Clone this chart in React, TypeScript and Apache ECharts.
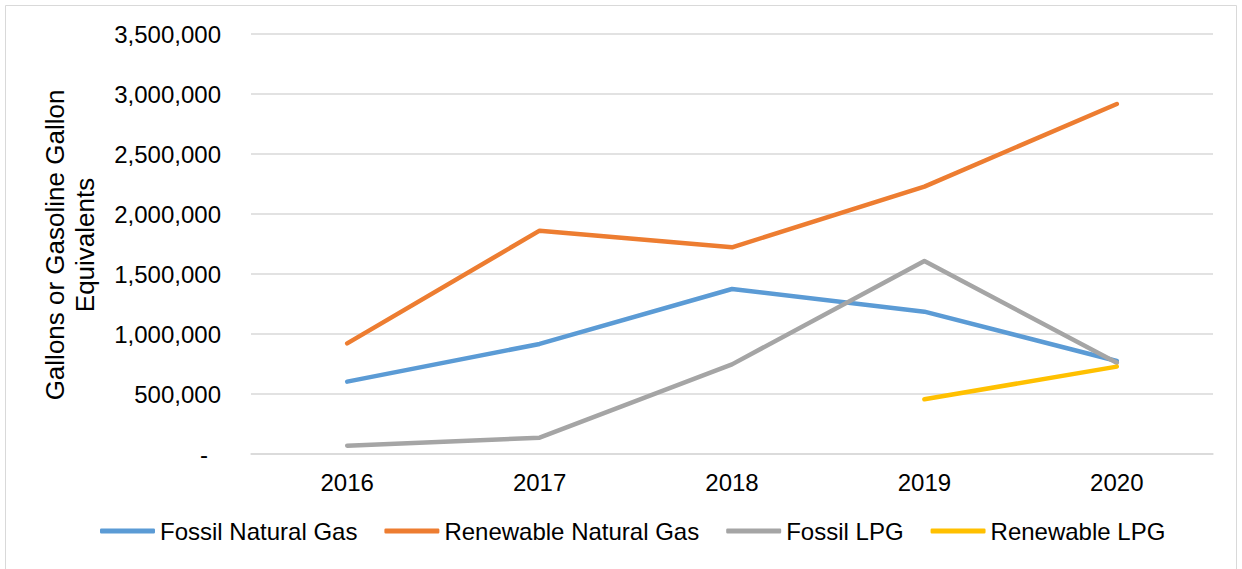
import React, { useEffect, useRef } from "react";
import * as echarts from "echarts";

const years = ["2016", "2017", "2018", "2019", "2020"];
const fossilNaturalGas = [603000, 917000, 1375000, 1186000, 775000];
const renewableNaturalGas = [922000, 1861000, 1722000, 2228000, 2917000];
const fossilLPG = [69000, 136000, 747000, 1608000, 761000];
const renewableLPG = [null, null, null, 456000, 728000];
const seriesNames = ["Fossil Natural Gas", "Renewable Natural Gas", "Fossil LPG", "Renewable LPG"];
const seriesColors = ["#5B9BD5", "#ED7D31", "#A5A5A5", "#FFC000"];
const axisTitle = "Gallons or Gasoline Gallon\nEquivalents";

const FONT = "'Liberation Sans', Arial, sans-serif";

export default function App() {
  const ref = useRef<HTMLDivElement>(null);
  useEffect(() => {
    if (!ref.current) return;
    const chart = echarts.init(ref.current, null, { renderer: "svg" });
    const data = [fossilNaturalGas, renewableNaturalGas, fossilLPG, renewableLPG];
    chart.setOption({
      animation: false,
      backgroundColor: "#ffffff",
      textStyle: { fontFamily: FONT },
      grid: { left: 251, right: 29, top: 34, bottom: 115, containLabel: false },
      legend: {
        left: 95,
        top: 514,
        icon: "roundRect",
        itemWidth: 55,
        itemHeight: 5,
        itemGap: 27,
        textStyle: { fontFamily: FONT, fontSize: 24, color: "#000" },
        data: seriesNames,
      },
      xAxis: {
        type: "category",
        data: years,
        boundaryGap: true,
        axisLine: { show: true, lineStyle: { color: "#D9D9D9", width: 1.5 } },
        axisTick: { show: false },
        axisLabel: { fontFamily: FONT, fontSize: 24, color: "#000", margin: 16 },
      },
      yAxis: {
        type: "value",
        min: 0,
        max: 3500000,
        interval: 500000,
        axisLine: { show: false },
        axisTick: { show: false },
        splitLine: { lineStyle: { color: "#D9D9D9", width: 1.5 } },
        axisLabel: {
          fontFamily: FONT,
          fontSize: 24,
          color: "#000",
          margin: 30,
          formatter: (v: number) => (v === 0 ? "{d|-}" : v.toLocaleString("en-US")),
          rich: { d: { fontFamily: FONT, fontSize: 24, color: "#000", padding: [0, 13, 0, 0] } },
        },
      },
      graphic: [
        {
          type: "rect",
          shape: { x: 5.5, y: 5.5, width: 1231, height: 580 },
          style: { fill: "none", stroke: "#D9D9D9", lineWidth: 1 },
          silent: true,
        },
        {
          type: "text",
          x: 70,
          y: 245,
          rotation: Math.PI / 2,
          style: {
            text: axisTitle,
            fontFamily: FONT,
            fontSize: 26,
            fill: "#000",
            align: "center",
            verticalAlign: "middle",
            lineHeight: 30,
          },
        },
      ],
      series: seriesNames.map((name, i) => ({
        name,
        type: "line",
        data: data[i],
        symbol: "none",
        connectNulls: false,
        itemStyle: { color: seriesColors[i] },
        lineStyle: { color: seriesColors[i], width: 4.5, cap: "round", join: "round" },
      })),
    });
    return () => chart.dispose();
  }, []);
  return (
    <div
      ref={ref}
      style={{ position: "absolute", left: 0, top: 0, width: 1242, height: 569 }}
    />
  );
}
